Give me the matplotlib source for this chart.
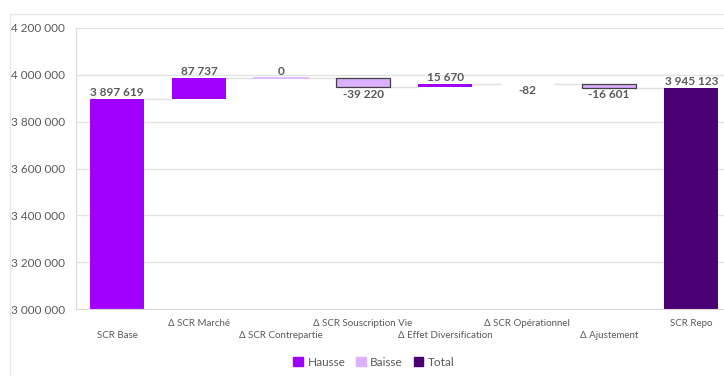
import matplotlib.pyplot as plt
from matplotlib.patches import Rectangle, Patch
from matplotlib.transforms import blended_transform_factory

plt.rcParams['font.family'] = ['Lato', 'DejaVu Sans']

# données du graphique en cascade
categories = ['SCR Base', 'Δ SCR Marché', 'Δ SCR Contrepartie', 'Δ SCR Souscription Vie',
              'Δ Effet Diversification', 'Δ SCR Opérationnel', 'Δ Ajustement', 'SCR Repo']
values = [3897619, 87737, 0, -39220, 15670, -82, -16601, 3945123]
kinds = ['base', 'delta', 'delta', 'delta', 'delta', 'delta', 'delta', 'total']
labels = ['3 897 619', '87 737', '0', '-39 220', '15 670', '-82', '-16 601', '3 945 123']
yticks = [3000000, 3200000, 3400000, 3600000, 3800000, 4000000, 4200000]

c_up = '#A100FF'
c_down = '#DAB0FF'
c_total = '#4A0072'
c_text = '#595959'
c_grid = '#E3E3E3'

fig = plt.figure(figsize=(7.24, 3.76), dpi=100)
fig.patches.append(Rectangle((10 / 724, -0.1), 1.2, (376 - 14) / 376 + 0.1,
                             transform=fig.transFigure, fill=False,
                             edgecolor='#E6E6E6', lw=1))
ax = fig.add_axes([76 / 724, (376 - 309) / 376, 1 - 76 / 724, (309 - 28) / 376])

ymin, ymax = 3000000, 4200000
ax.set_ylim(ymin, ymax)
ax.set_xlim(-0.5, 7.4)
width = 0.66
off = 5000  # écart vertical des étiquettes

running = 0
levels = []
for i, (v, k, lab) in enumerate(zip(values, kinds, labels)):
    if k in ('base', 'total'):
        color = c_up if k == 'base' else c_total
        ax.bar(i, v, width=width, bottom=0, color=color, zorder=3)
        running = v
        ax.text(i, v + off, lab, ha='center', va='bottom', fontsize=8.5,
                fontweight='bold', color=c_text, zorder=4)
    else:
        start = running
        running = running + v
        if v > 0:
            ax.bar(i, v, width=width, bottom=start, color=c_up, zorder=3)
            ax.text(i, running + off, lab, ha='center', va='bottom', fontsize=8.5,
                    fontweight='bold', color=c_text, zorder=4)
        elif v < 0:
            # une baisse minuscule (-82) ne se voit pas dans l'original
            edge = '#404040' if abs(v) > 1000 else 'none'
            ax.bar(i, v, width=width, bottom=start, color=c_down,
                   edgecolor=edge, lw=0.9, zorder=3)
            ax.text(i, running - off, lab, ha='center', va='top', fontsize=8.5,
                    fontweight='bold', color=c_text, zorder=4)
        else:
            ax.plot([i - width / 2, i + width / 2], [start, start], color=c_down,
                    lw=1.2, zorder=3)
            ax.text(i, running + off, lab, ha='center', va='bottom', fontsize=8.5,
                    fontweight='bold', color=c_text, zorder=4)
    levels.append(running)

# lignes de liaison
for i in range(len(values) - 1):
    ax.plot([i + width / 2, i + 1 - width / 2], [levels[i], levels[i]],
            color='#E0E0E0', lw=1, zorder=2)

ax.set_yticks(yticks)
ax.set_yticklabels([f'{t:,}'.replace(',', ' ') for t in yticks])
ax.tick_params(axis='y', length=0, pad=8, labelsize=8.5, labelcolor=c_text)
ax.set_xticks([])
ax.grid(axis='y', color=c_grid, lw=1, zorder=0)
for s in ['top', 'right']:
    ax.spines[s].set_visible(False)
ax.spines['left'].set_color('#D9D9D9')
ax.spines['bottom'].set_color('#D9D9D9')
ax.spines['bottom'].set_zorder(5)

trans = blended_transform_factory(ax.transData, fig.transFigure)
for i, cat in enumerate(categories):
    ypix = 323 if i % 2 == 1 else 336
    ax.text(i, 1 - ypix / 376, cat, transform=trans, ha='center', va='center',
            fontsize=7, color=c_text)

handles = [Patch(color=c_up), Patch(color=c_down), Patch(color=c_total)]
fig.legend(handles, ['Hausse', 'Baisse', 'Total'], loc='center', ncol=3,
           bbox_to_anchor=(374 / 724, 1 - 362 / 376), frameon=False,
           fontsize=8.5, handlelength=0.8, handleheight=0.8, handletextpad=0.4,
           columnspacing=0.9, labelcolor=c_text)

fig.savefig('out.png', dpi=100)
